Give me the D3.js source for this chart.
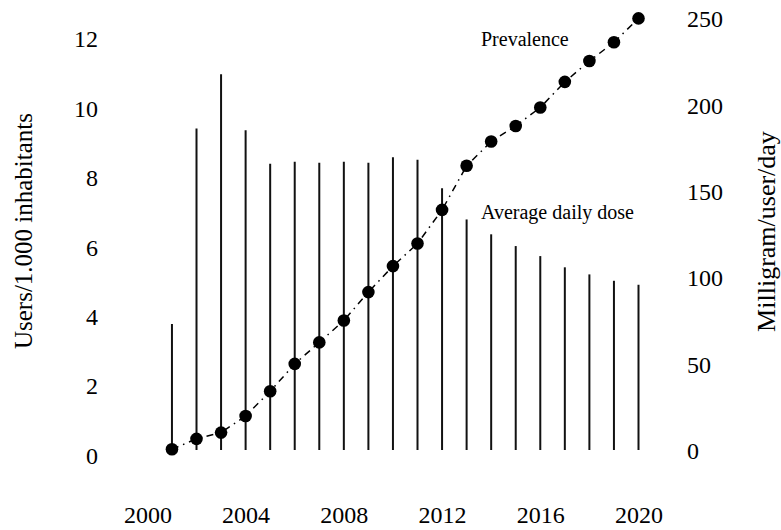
<!DOCTYPE html>
<html>
<head>
<meta charset="utf-8">
<script src="https://cdn.jsdelivr.net/npm/d3@7"></script>
</head>
<body style="margin:0; background:#fff">
<svg id="chart" width="781" height="530"></svg>
<script>
// years on the x axis
var years = [2001, 2002, 2003, 2004, 2005, 2006, 2007, 2008, 2009, 2010,
             2011, 2012, 2013, 2014, 2015, 2016, 2017, 2018, 2019, 2020];
// prevalence, users per 1.000 inhabitants (left axis)
var prevalence = [0.18, 0.48, 0.66, 1.14, 1.85, 2.64, 3.26, 3.89, 4.71, 5.46,
                  6.11, 7.08, 8.35, 9.05, 9.5, 10.03, 10.77, 11.37, 11.91, 12.6];
// average daily dose, milligram/user/day (right axis)
var dailyDose = [73.5, 186.7, 218, 185.6, 166.3, 167.4, 166.8, 167.4, 166.8, 170,
                 168.6, 152, 134, 125.4, 118.6, 112.8, 106.3, 102.2, 98.5, 96.2];

var xTicks = [2000, 2004, 2008, 2012, 2016, 2020];
var leftTicks = [0, 2, 4, 6, 8, 10, 12];
var rightTicks = [0, 50, 100, 150, 200, 250];

var FONT = "Liberation Serif, Times New Roman, serif";

var svg = d3.select("svg#chart")
  .attr("font-family", FONT);

var x = d3.scaleLinear().domain([2000, 2020]).range([147.4, 638.5]);
var yL = d3.scaleLinear().domain([0, 12]).range([455.5, 39.2]);
var yR = d3.scaleLinear().domain([0, 250]).range([451, 19]);

var rows = years.map((yr, i) => ({year: yr, prev: prevalence[i], dose: dailyDose[i]}));

// dose bars drawn as thin lines
svg.append("g")
  .selectAll("line")
  .data(rows)
  .enter().append("line")
    .attr("x1", d => x(d.year))
    .attr("x2", d => x(d.year))
    .attr("y1", yR(0) - 1)
    .attr("y2", d => yR(d.dose))
    .attr("stroke", "#111")
    .attr("stroke-width", 2);

// prevalence dash-dot line
var line = d3.line().x(d => x(d.year)).y(d => yL(d.prev));
svg.append("path")
  .datum(rows)
  .attr("d", line)
  .attr("fill", "none")
  .attr("stroke", "#000")
  .attr("stroke-width", 1.5)
  .attr("stroke-dasharray", "7,5,1.5,5");

svg.append("g")
  .selectAll("circle")
  .data(rows)
  .enter().append("circle")
    .attr("cx", d => x(d.year))
    .attr("cy", d => yL(d.prev))
    .attr("r", 6.3)
    .attr("fill", "#000");

// axes, no domain lines and no tick marks
function clean(g) {
  g.attr("font-family", FONT).attr("font-size", 24);
  g.select(".domain").remove();
  g.selectAll("text")
    .attr("font-family", FONT)
    .style("font-family", FONT)
    .attr("fill", "#000");
}

svg.append("g")
  .attr("transform", translate(98, 0))
  .call(d3.axisLeft(yL).tickValues(leftTicks).tickSize(0).tickPadding(0))
  .call(clean);

svg.append("g")
  .attr("transform", translate(687, 0))
  .call(d3.axisRight(yR).tickValues(rightTicks).tickSize(0).tickPadding(0))
  .call(clean);

svg.append("g")
  .attr("transform", translate(0, 506))
  .call(d3.axisBottom(x).tickValues(xTicks).tickFormat(d3.format("d")).tickSize(0).tickPadding(0))
  .call(clean);

// axis titles
svg.append("text")
  .attr("transform", translate(32, 231) + " rotate(-90)")
  .attr("text-anchor", "middle")
  .attr("font-size", 25)
  .text("Users/1.000 inhabitants");

svg.append("text")
  .attr("transform", translate(775, 231.5) + " rotate(-90)")
  .attr("text-anchor", "middle")
  .attr("font-size", 26)
  .text("Milligram/user/day");

// series labels
svg.append("text")
  .attr("x", 481)
  .attr("y", 38.5)
  .attr("dy", "0.35em")
  .attr("font-size", 20)
  .text("Prevalence");

svg.append("text")
  .attr("x", 481)
  .attr("y", 212)
  .attr("dy", "0.35em")
  .attr("font-size", 20)
  .text("Average daily dose");

function translate(x, y) {
  return 'translate(' + String(x) + ',' + String(y) + ')';
}
</script>
</body>
</html>
